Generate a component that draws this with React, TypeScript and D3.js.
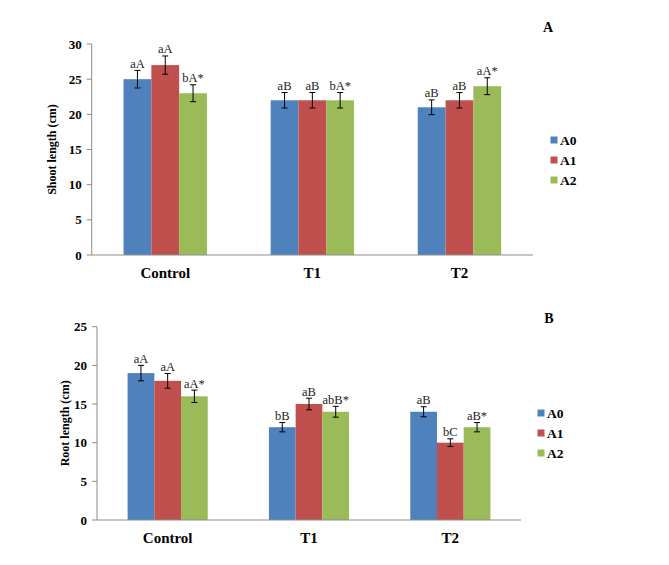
import React from "react"
import * as d3 from "d3"

const categories = ["Control", "T1", "T2"]
const series = ["A0", "A1", "A2"]
const colors = ["#4F81BD", "#C0504D", "#9BBB59"]

// shoot length (panel A), one array per series, in category order
const shootValues = [
  [25, 22, 21],
  [27, 22, 22],
  [23, 22, 24],
]
const shootErrors = [
  [1.25, 1.1, 1.05],
  [1.3, 1.1, 1.1],
  [1.2, 1.1, 1.2],
]
const shootLabels = [
  ["aA", "aB", "aB"],
  ["aA", "aB", "aB"],
  ["bA*", "bA*", "aA*"],
]
const shootTicks = [0, 5, 10, 15, 20, 25, 30]

// root length (panel B)
const rootValues = [
  [19, 12, 14],
  [18, 15, 10],
  [16, 14, 12],
]
const rootErrors = [
  [1.0, 0.6, 0.65],
  [0.95, 0.75, 0.5],
  [0.8, 0.7, 0.6],
]
const rootLabels = [
  ["aA", "bB", "aB"],
  ["aA", "aB", "bC"],
  ["aA*", "abB*", "aB*"],
]
const rootTicks = [0, 5, 10, 15, 20, 25]

const FONT = "'Liberation Serif', 'Times New Roman', serif"

interface PanelProps {
  values: number[][]
  errors: number[][]
  labels: string[][]
  ticks: number[]
  title: string
  letter: string
  x0: number
  x1: number
  yTop: number
  yBottom: number
  titleX: number
  letterPos: [number, number]
  legendX: number
  legendY: number
}

const Panel: React.FC<PanelProps> = (p) => {
  const maxV = p.ticks[p.ticks.length - 1]
  const y = d3.scaleLinear().domain([0, maxV]).range([p.yBottom, p.yTop])
  const xGroup = d3.scaleBand<string>().domain(categories).range([p.x0, p.x1]).padding(0)
  const bw = xGroup.bandwidth()
  const xSeries = d3
    .scaleBand<string>()
    .domain(series)
    .range([bw * 0.2165, bw * 0.7835])
    .padding(0)
  const sw = xSeries.bandwidth()
  const midY = (p.yTop + p.yBottom) / 2

  return (
    <g>
      {/* bars */}
      {series.map((s, si) =>
        categories.map((c, ci) => {
          const v = p.values[si][ci]
          const bx = (xGroup(c) ?? 0) + (xSeries(s) ?? 0)
          return (
            <rect
              key={s + c}
              x={bx}
              y={y(v)}
              width={sw}
              height={y(0) - y(v)}
              fill={colors[si]}
            />
          )
        })
      )}
      {/* error bars + letters */}
      {series.map((s, si) =>
        categories.map((c, ci) => {
          const v = p.values[si][ci]
          const e = p.errors[si][ci]
          const cx = (xGroup(c) ?? 0) + (xSeries(s) ?? 0) + sw / 2
          return (
            <g key={"e" + s + c}>
              <line x1={cx} x2={cx} y1={y(v + e)} y2={y(v - e)} stroke="#000" strokeWidth={1} />
              <line x1={cx - 3} x2={cx + 3} y1={y(v + e)} y2={y(v + e)} stroke="#000" strokeWidth={1} />
              <line x1={cx - 3} x2={cx + 3} y1={y(v - e)} y2={y(v - e)} stroke="#000" strokeWidth={1} />
              <text
                x={cx}
                y={y(v + e) - 2.5}
                textAnchor="middle"
                fontSize={12.5}
                fontFamily={FONT}
                fill="#222"
              >
                {p.labels[si][ci]}
              </text>
            </g>
          )
        })
      )}
      {/* axes */}
      <line x1={p.x0} x2={p.x0} y1={p.yTop} y2={p.yBottom} stroke="#8c8c8c" strokeWidth={1} />
      <line x1={p.x0} x2={p.x1} y1={p.yBottom} y2={p.yBottom} stroke="#8c8c8c" strokeWidth={1} />
      {p.ticks.map((t) => (
        <g key={t}>
          <line x1={p.x0 - 5} x2={p.x0} y1={y(t)} y2={y(t)} stroke="#8c8c8c" strokeWidth={1} />
          <text
            x={p.x0 - 10}
            y={y(t)}
            dy="0.35em"
            textAnchor="end"
            fontSize={13}
            fontWeight="bold"
            fontFamily={FONT}
          >
            {t}
          </text>
        </g>
      ))}
      {categories.map((c) => (
        <text
          key={c}
          x={(xGroup(c) ?? 0) + bw / 2}
          y={p.yBottom + 18}
          dy="0.35em"
          textAnchor="middle"
          fontSize={15}
          fontWeight="bold"
          fontFamily={FONT}
        >
          {c}
        </text>
      ))}
      <text
        transform={`translate(${p.titleX},${midY}) rotate(-90)`}
        textAnchor="middle"
        dy="0.35em"
        fontSize={12}
        fontWeight="bold"
        fontFamily={FONT}
      >
        {p.title}
      </text>
      <text
        x={p.letterPos[0]}
        y={p.letterPos[1]}
        dy="0.35em"
        textAnchor="middle"
        fontSize={14}
        fontWeight="bold"
        fontFamily={FONT}
      >
        {p.letter}
      </text>
      {/* legend */}
      {series.map((s, si) => (
        <g key={"l" + s} transform={`translate(${p.legendX},${p.legendY + si * 20})`}>
          <rect x={0} y={-3.5} width={7} height={7} fill={colors[si]} />
          <text x={9.5} y={0} dy="0.35em" fontSize={13.5} fontWeight="bold" fontFamily={FONT}>
            {s}
          </text>
        </g>
      ))}
    </g>
  )
}

export default function App() {
  return (
    <svg
      width={669}
      height={565}
      style={{ position: "absolute", left: 0, top: 0, background: "#fff" }}
    >
      <rect width={669} height={565} fill="#fff" />
      <Panel
        values={shootValues}
        errors={shootErrors}
        labels={shootLabels}
        ticks={shootTicks}
        title="Shoot length (cm)"
        letter="A"
        x0={91.7}
        x1={533}
        yTop={44}
        yBottom={255}
        titleX={52}
        letterPos={[548, 27]}
        legendX={550.5}
        legendY={140}
      />
      <Panel
        values={rootValues}
        errors={rootErrors}
        labels={rootLabels}
        ticks={rootTicks}
        title="Root length (cm)"
        letter="B"
        x0={97}
        x1={521}
        yTop={326.7}
        yBottom={520}
        titleX={65}
        letterPos={[549, 318]}
        legendX={537.5}
        legendY={413}
      />
    </svg>
  )
}
